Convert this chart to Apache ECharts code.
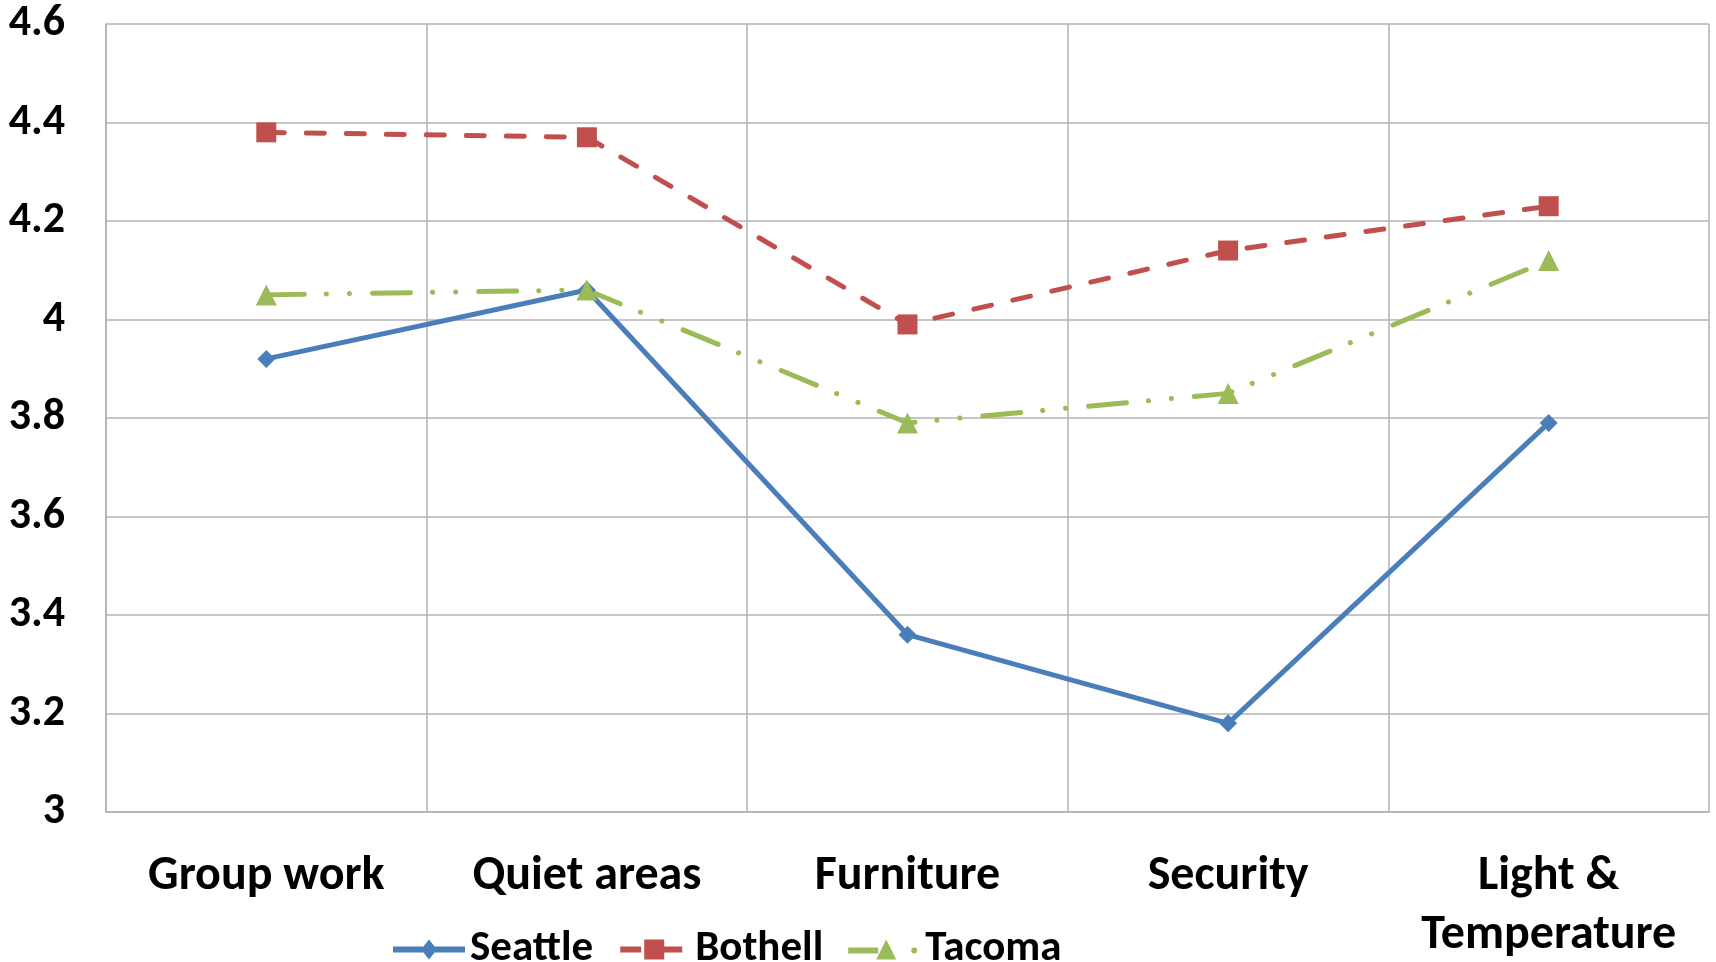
<!DOCTYPE html>
<html>
<head>
<meta charset="utf-8">
<script src="https://cdn.jsdelivr.net/npm/echarts@6/dist/echarts.min.js"></script>
<style>
html,body{margin:0;padding:0;background:#fff;overflow:hidden;}
#chart{width:1716px;height:962px;}
</style>
</head>
<body>
<div id="chart"></div>
<script>
const categories = ["Group work", "Quiet areas", "Furniture", "Security", "Light &\nTemperature"];
const seriesNames = ["Seattle", "Bothell", "Tacoma"];
const seattle = [3.92, 4.06, 3.36, 3.18, 3.79];
const bothell = [4.38, 4.37, 3.99, 4.14, 4.23];
const tacoma = [4.05, 4.06, 3.79, 3.85, 4.12];
const yMin = 3, yMax = 4.6, yStep = 0.2;

const FONT = "Carlito, Lato, 'Open Sans', sans-serif";
const GRID = '#b3b3b3';

// legend glyphs (line + marker), 72 x 20 box
const ICON_SEATTLE = 'path://M0 0M72 20M0 7H72V13H0Z M36 0L44 10L36 20L28 10Z';
const ICON_BOTHELL = 'path://M0 0M72 20M2 7H23V13H2Z M26 0H46V20H26Z M46 7H64V13H46Z';
const ICON_TACOMA = 'path://M0 0M72 20M0 8H30V14H0Z M38 0L48 20H28Z M63 11A3 3 0 1 0 69 11A3 3 0 1 0 63 11Z';

const chart = echarts.init(document.getElementById('chart'));
chart.setOption({
  animation: false,
  backgroundColor: '#ffffff',
  grid: {left: 106, right: 7, top: 24, bottom: 150, containLabel: false, outerBoundsMode: 'none'},
  legend: {
    left: 388, top: 923,
    itemWidth: 72, itemHeight: 20, itemGap: 25,
    itemStyle: {borderWidth: 0},
    textStyle: {fontFamily: FONT, fontSize: 43, fontWeight: 'bold', color: '#000'},
    data: [
      {name: seriesNames[0], icon: ICON_SEATTLE},
      {name: seriesNames[1], icon: ICON_BOTHELL},
      {name: seriesNames[2], icon: ICON_TACOMA}
    ]
  },
  xAxis: {
    type: 'category',
    data: categories,
    boundaryGap: true,
    axisLine: {show: true, lineStyle: {color: GRID, width: 1.5}},
    axisTick: {show: false},
    splitLine: {show: true, lineStyle: {color: GRID, width: 1.5}},
    axisLabel: {
      fontFamily: FONT, fontSize: 48, fontWeight: 'bold', color: '#000',
      margin: 35, lineHeight: 59, interval: 0
    }
  },
  yAxis: {
    type: 'value',
    min: yMin, max: yMax, interval: yStep,
    axisLine: {show: true, lineStyle: {color: GRID, width: 1.5}},
    axisTick: {show: false},
    splitLine: {show: true, lineStyle: {color: GRID, width: 1.5}},
    axisLabel: {
      fontFamily: FONT, fontSize: 44, fontWeight: 'bold', color: '#000', margin: 41,
      formatter: v => String(Math.round(v * 10) / 10)
    }
  },
  series: [
    {
      name: seriesNames[0], type: 'line', data: seattle,
      symbol: 'diamond', symbolSize: 18,
      itemStyle: {color: '#4a7ebb'},
      lineStyle: {color: '#4a7ebb', width: 5, cap: 'round'}
    },
    {
      name: seriesNames[1], type: 'line', data: bothell,
      symbol: 'rect', symbolSize: 20,
      itemStyle: {color: '#c0504d'},
      lineStyle: {color: '#c0504d', width: 5, type: [18, 22], cap: 'round'}
    },
    {
      name: seriesNames[2], type: 'line', data: tacoma,
      symbol: 'triangle', symbolSize: 21,
      itemStyle: {color: '#9bbb59'},
      lineStyle: {color: '#9bbb59', width: 5, type: [38, 22, 0.1, 23, 0.1, 23], cap: 'round'}
    }
  ]
});
</script>
</body>
</html>
